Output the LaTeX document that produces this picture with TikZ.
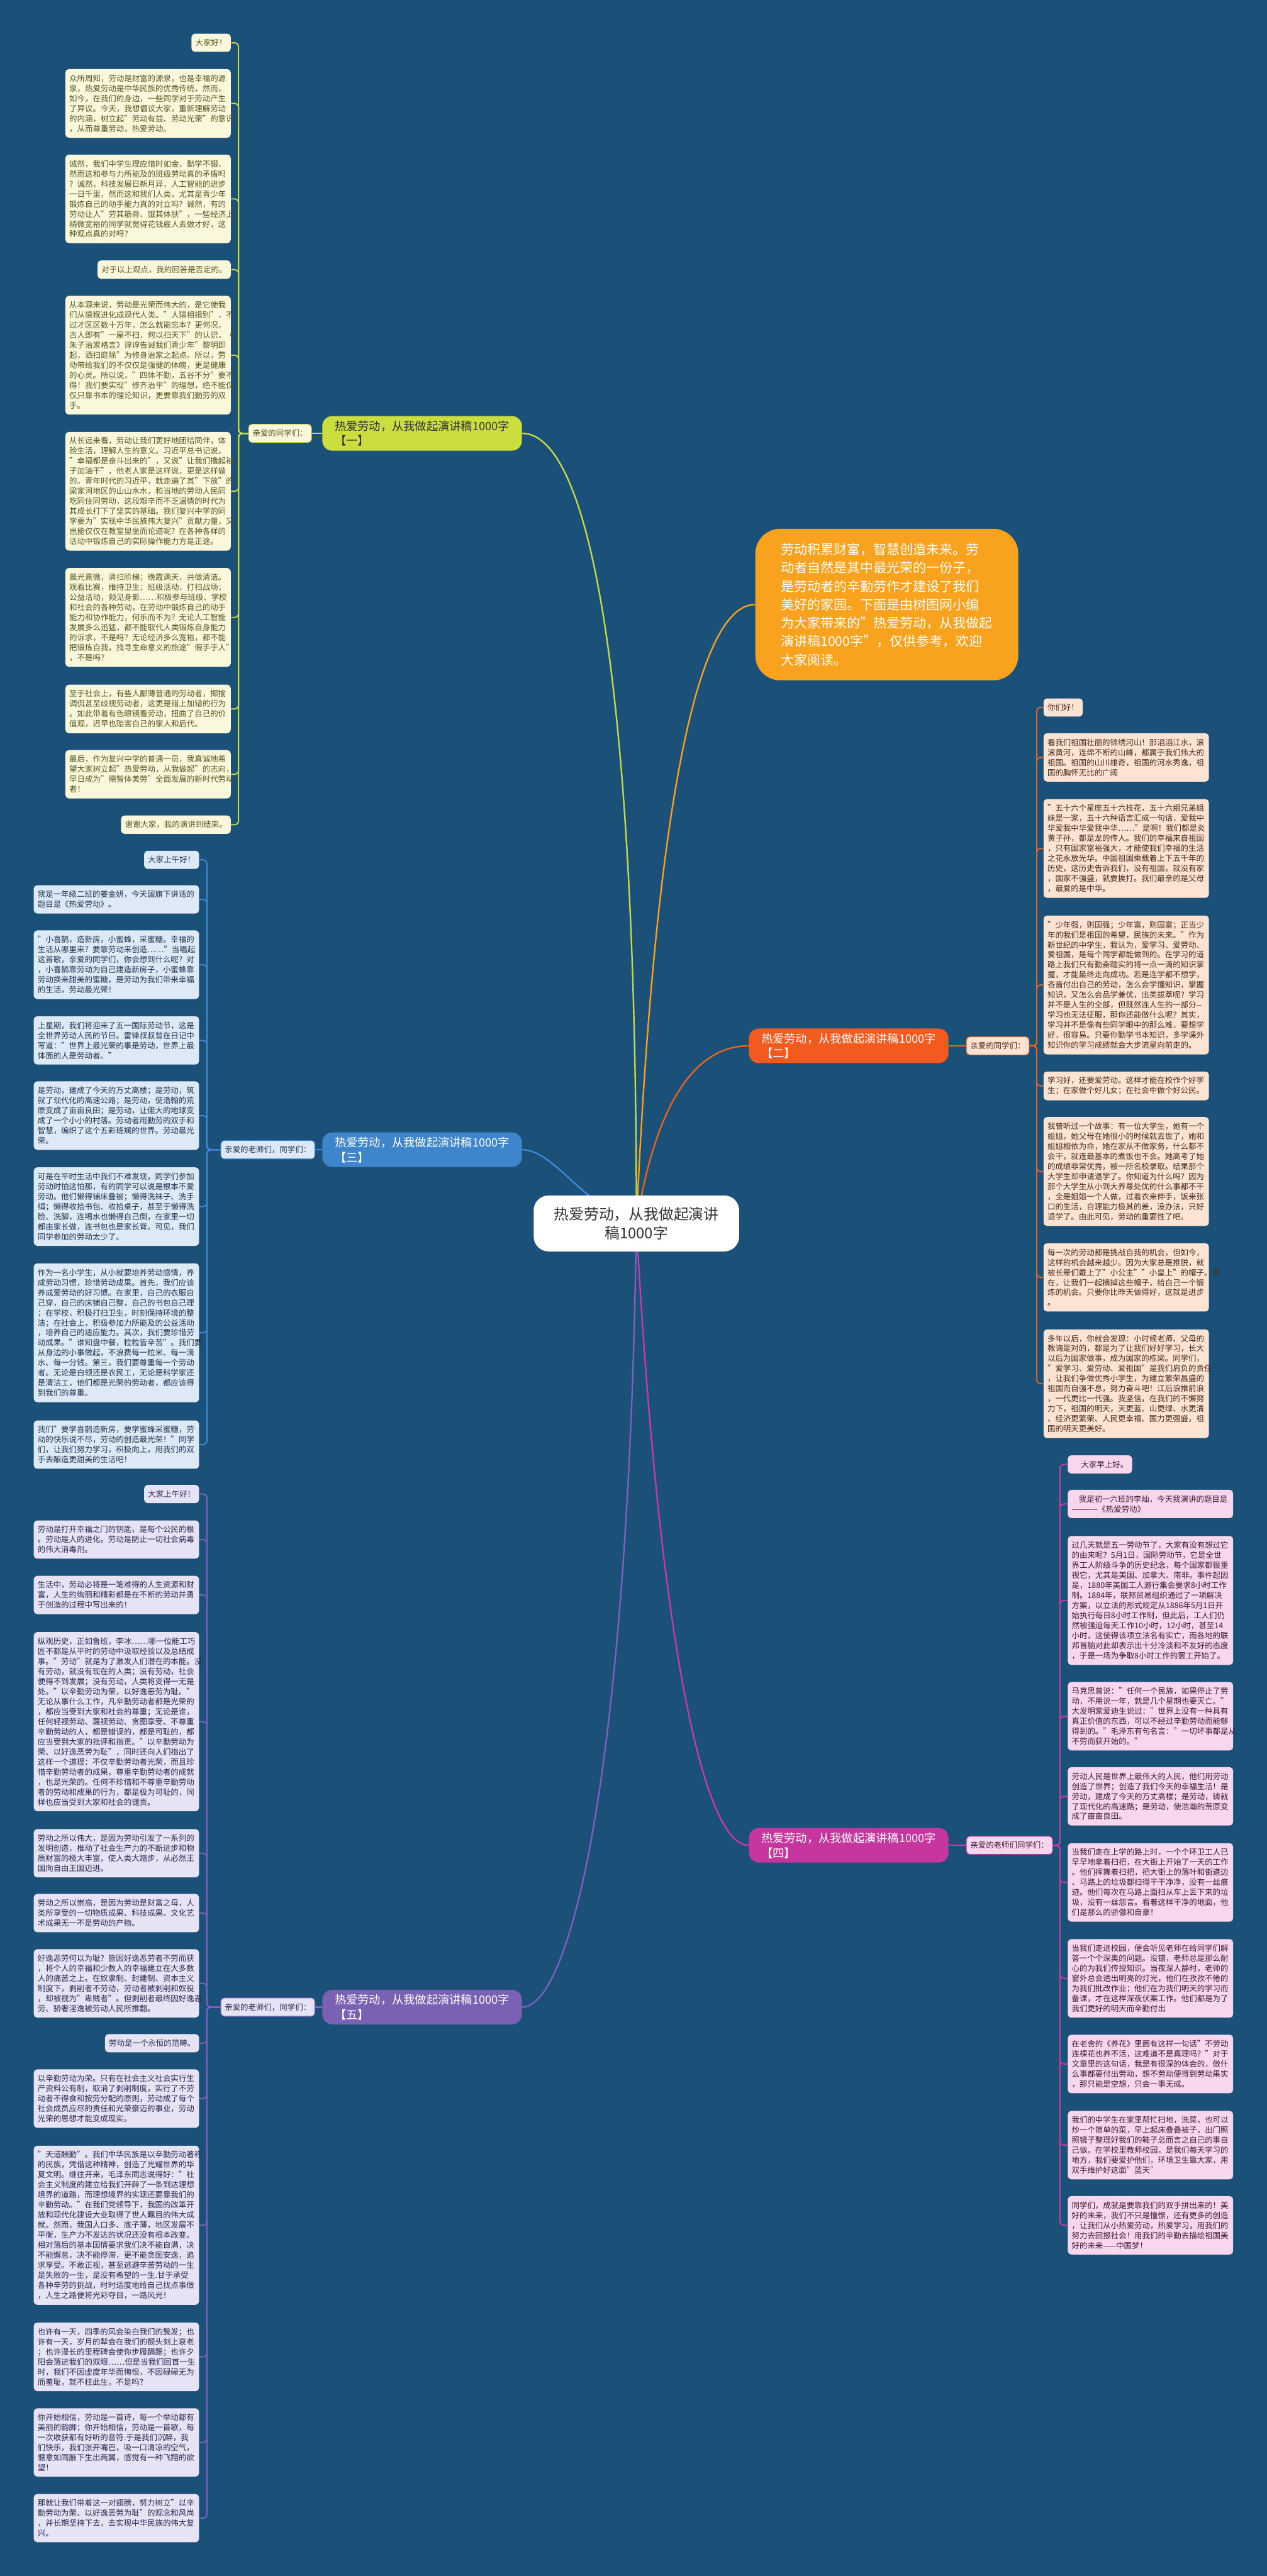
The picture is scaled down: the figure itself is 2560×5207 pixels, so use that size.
\documentclass[tikz,border=0pt]{standalone}
\usepackage{fontspec}
\setmainfont{Noto Sans CJK SC}
\usetikzlibrary{backgrounds}
\definecolor{bgblue}{HTML}{1B5078}
\definecolor{ink}{HTML}{333333}
\definecolor{limeLine}{HTML}{C5DA4A}
\definecolor{limeTopic}{HTML}{CCDD3E}
\definecolor{limeSoft}{HTML}{FAF8DC}
\definecolor{limeInk}{HTML}{56551F}
\definecolor{rustLine}{HTML}{E8651F}
\definecolor{rustTopic}{HTML}{F25A1E}
\definecolor{rustSoft}{HTML}{FDE3D4}
\definecolor{rustInk}{HTML}{46291C}
\definecolor{introFill}{HTML}{F8A21D}
\definecolor{skyLine}{HTML}{3D8AD6}
\definecolor{skyTopic}{HTML}{3E86CB}
\definecolor{skySoft}{HTML}{DDEAF6}
\definecolor{skyInk}{HTML}{1E334F}
\definecolor{plumLine}{HTML}{C43CA4}
\definecolor{plumTopic}{HTML}{C5369E}
\definecolor{plumSoft}{HTML}{F6D7EE}
\definecolor{plumInk}{HTML}{3C1836}
\definecolor{violetLine}{HTML}{7F5FC0}
\definecolor{violetTopic}{HTML}{7B61B3}
\definecolor{violetSoft}{HTML}{E6E3F4}
\definecolor{violetInk}{HTML}{2C2650}
\newcommand\leaffont{\fontsize{4.5pt}{5.78pt}\selectfont}
\newcommand\topicfont{\fontsize{6.6pt}{8.6pt}\selectfont}
\newcommand\rootfont{\fontsize{8.6pt}{11pt}\selectfont}
\newcommand\introfont{\fontsize{7.6pt}{10.6pt}\selectfont}
\tikzset{
  leafbox/.style={rounded corners=0.07cm,align=left,inner xsep=0.08cm,inner ysep=0.11cm,font=\leaffont},
  wide/.style={text width=3.18cm},
  limeleaf/.style={leafbox,fill=limeSoft,text=limeInk},
  rustleaf/.style={leafbox,fill=rustSoft,text=rustInk},
  skyleaf/.style={leafbox,fill=skySoft,text=skyInk},
  plumleaf/.style={leafbox,fill=plumSoft,text=plumInk},
  violetleaf/.style={leafbox,fill=violetSoft,text=violetInk},
  subbox/.style={line width=0.4pt},
  topicbox/.style={rounded corners=0.2cm,align=left,inner xsep=0.25cm,inner ysep=0.09cm,font=\topicfont,text=white},
  rootbox/.style={fill=white,text=ink,rounded corners=0.3cm,align=center,font=\rootfont,minimum width=4.15cm,minimum height=1.13cm},
  introbox/.style={fill=introFill,text=white,rounded corners=0.5cm,align=left,font=\introfont,minimum width=5.31cm,minimum height=3.06cm},
  limelink/.style={draw=limeLine,line width=0.03cm},
  rustlink/.style={draw=rustLine,line width=0.03cm},
  introlink/.style={draw=introFill,line width=0.03cm},
  skylink/.style={draw=skyLine,line width=0.03cm},
  plumlink/.style={draw=plumLine,line width=0.03cm},
  violetlink/.style={draw=violetLine,line width=0.03cm},
  trunk/.style={line width=0.025cm,rounded corners=0.08cm}
}
\begin{document}
\begin{tikzpicture}[x=0.01cm,y=-0.01cm]
\begin{scope}[on background layer]
  \fill[bgblue] (0,0) rectangle (2560,5207);
\end{scope}
\useasboundingbox (0,0) rectangle (2560,5207);

% centre
\node[rootbox] (root) at (1286,2473) {热爱劳动，从我做起演讲\\稿1000字};
\node[introbox] (intro) at (1792,1222) {劳动积累财富，智慧创造未来。劳\\动者自然是其中最光荣的一份子，\\是劳动者的辛勤劳作才建设了我们\\美好的家园。下面是由树图网小编\\为大家带来的"热爱劳动，从我做起\\演讲稿1000字"，仅供参考，欢迎\\大家阅读。};

% topics
\node[topicbox,fill=limeTopic,text=ink] (top1) at (853,876) {热爱劳动，从我做起演讲稿1000字\\【一】};
\node[topicbox,fill=rustTopic] (top2) at (1715,2114) {热爱劳动，从我做起演讲稿1000字\\【二】};
\node[topicbox,fill=skyTopic] (top3) at (853,2324) {热爱劳动，从我做起演讲稿1000字\\【三】};
\node[topicbox,fill=plumTopic] (top4) at (1715,3730) {热爱劳动，从我做起演讲稿1000字\\【四】};
\node[topicbox,fill=violetTopic] (top5) at (853,4057) {热爱劳动，从我做起演讲稿1000字\\【五】};

\node[limeleaf,subbox,draw=limeLine,anchor=east] (sub1) at (630,876) {亲爱的同学们：};
\node[rustleaf,subbox,draw=rustLine,anchor=west] (sub2) at (1952,2114) {亲爱的同学们：};
\node[skyleaf,subbox,draw=skyLine,anchor=east] (sub3) at (637,2324) {亲爱的老师们，同学们：};
\node[plumleaf,subbox,draw=plumLine,anchor=west] (sub4) at (1952,3730) {亲爱的老师们同学们：};
\node[violetleaf,subbox,draw=violetLine,anchor=east] (sub5) at (637,4057) {亲爱的老师们，同学们：};

\coordinate (knee1) at (482,876);
\coordinate (knee2) at (2095,2114);
\coordinate (knee3) at (418,2324);
\coordinate (knee4) at (2142,3730);
\coordinate (knee5) at (418,4057);

% branch one
\node[limeleaf,anchor=east] (a1) at (467,86.5) {大家好！};
\node[limeleaf,wide,anchor=east] (a2) at (467,209) {众所周知，劳动是财富的源泉，也是幸福的源\\泉，热爱劳动是中华民族的优秀传统，然而，\\如今，在我们的身边，一些同学对于劳动产生\\了异议。今天，我想倡议大家，重新理解劳动\\的内涵，树立起"劳动有益、劳动光荣"的意识\\，从而尊重劳动，热爱劳动。};
\node[limeleaf,wide,anchor=east] (a3) at (467,402) {诚然，我们中学生理应惜时如金，勤学不辍，\\然而这和参与力所能及的班级劳动真的矛盾吗\\？诚然，科技发展日新月异，人工智能的进步\\一日千里，然而这和我们人类，尤其是青少年\\锻炼自己的动手能力真的对立吗？诚然，有的\\劳动让人"劳其筋骨、饿其体肤"，一些经济上\\稍微宽裕的同学就觉得花钱雇人去做才好，这\\种观点真的对吗？};
\node[limeleaf,anchor=east] (a4) at (467,545) {对于以上观点，我的回答是否定的。};
\node[limeleaf,wide,anchor=east] (a5) at (467,718) {从本源来说，劳动是光荣而伟大的，是它使我\\们从猿猴进化成现代人类。"人猿相揖别"，不\\过才区区数十万年，怎么就能忘本？更何况，\\古人即有"一屋不扫，何以扫天下"的认识，《\\朱子治家格言》谆谆告诫我们青少年"黎明即\\起，洒扫庭除"为修身治家之起点。所以，劳\\动带给我们的不仅仅是强健的体魄，更是健康\\的心灵。所以说，"四体不勤，五谷不分"要不\\得！我们要实现"修齐治平"的理想，绝不能仅\\仅只靠书本的理论知识，更要靠我们勤劳的双\\手。};
\node[limeleaf,wide,anchor=east] (a6) at (467,993) {从长远来看，劳动让我们更好地团结同伴，体\\验生活，理解人生的意义。习近平总书记说，\\"幸福都是奋斗出来的"，又说"让我们撸起袖\\子加油干"，他老人家是这样说，更是这样做\\的。青年时代的习近平，就走遍了其"下放"的\\梁家河地区的山山水水，和当地的劳动人民同\\吃同住同劳动，这段艰辛而不乏温情的时代为\\其成长打下了坚实的基础。我们复兴中学的同\\学要为"实现中华民族伟大复兴"贡献力量，又\\岂能仅仅在教室里坐而论道呢？在各种各样的\\活动中锻炼自己的实际操作能力方是正途。};
\node[limeleaf,wide,anchor=east] (a7) at (467,1248) {晨光熹微，清扫阶梯；晚霞满天，共做清洁。\\观看比赛，维持卫生；班级活动，打扫战场；\\公益活动，频见身影……积极参与班级、学校\\和社会的各种劳动，在劳动中锻炼自己的动手\\能力和协作能力，何乐而不为？无论人工智能\\发展多么迅猛，都不能取代人类锻炼自身能力\\的诉求，不是吗？无论经济多么宽裕，都不能\\把锻炼自我，找寻生命意义的旅途"假手于人"\\，不是吗？};
\node[limeleaf,wide,anchor=east] (a8) at (467,1433) {至于社会上，有些人鄙薄普通的劳动者，揶揄\\调侃甚至歧视劳动者，这更是错上加错的行为\\。如此带着有色眼镜看劳动，扭曲了自己的价\\值观，迟早也贻害自己的家人和后代。};
\node[limeleaf,wide,anchor=east] (a9) at (467,1565) {最后，作为复兴中学的普通一员，我真诚地希\\望大家树立起"热爱劳动，从我做起"的志向，\\早日成为"德智体美劳"全面发展的新时代劳动\\者！};
\node[limeleaf,anchor=east] (a10) at (467,1667) {谢谢大家，我的演讲到结束。};

% branch two
\node[rustleaf,anchor=west] (b1) at (2108,1430) {你们好！};
\node[rustleaf,wide,anchor=west] (b2) at (2108,1531) {看我们祖国壮丽的锦绣河山！那滔滔江水，滚\\滚黄河，连绵不断的山峰，都属于我们伟大的\\祖国。祖国的山川雄奇，祖国的河水秀逸，祖\\国的胸怀无比的广阔};
\node[rustleaf,wide,anchor=west] (b3) at (2108,1715) {"五十六个星座五十六枝花，五十六组兄弟姐\\妹是一家，五十六种语言汇成一句话，爱我中\\华爱我中华爱我中华……"是啊！我们都是炎\\黄子孙，都是龙的传人。我们的幸福来自祖国\\，只有国家富裕强大，才能使我们幸福的生活\\之花永放光华。中国祖国乘载着上下五千年的\\历史，这历史告诉我们，没有祖国，就没有家\\，国家不强盛，就要挨打。我们最亲的是父母\\，最爱的是中华。};
\node[rustleaf,wide,anchor=west] (b4) at (2108,1991) {"少年强，则国强；少年富，则国富；正当少\\年的我们是祖国的希望，民族的未来。"作为\\新世纪的中学生，我认为，爱学习、爱劳动、\\爱祖国，是每个同学都能做到的。在学习的道\\路上我们只有勤奋踏实的将一点一滴的知识掌\\握，才能最终走向成功。若是连学都不想学，\\吝啬付出自己的劳动，怎么会学懂知识，掌握\\知识，又怎么会品学兼优，出类拔萃呢？学习\\并不是人生的全部，但既然连人生的一部分-{}-\\学习也无法征服，那你还能做什么呢？其实，\\学习并不是像有些同学眼中的那么难，要想学\\好，很容易。只要你勤学书本知识，多学课外\\知识你的学习成绩就会大步流星向前走的。};
\node[rustleaf,wide,anchor=west] (b5) at (2108,2195) {学习好，还要爱劳动。这样才能在校作个好学\\生；在家做个好儿女；在社会中做个好公民。};
\node[rustleaf,wide,anchor=west] (b6) at (2108,2368) {我曾听过一个故事：有一位大学生，她有一个\\姐姐，她父母在她很小的时候就去世了，她和\\姐姐相依为命，她在家从不做家务，什么都不\\会干，就连最基本的煮饭也不会。她高考了她\\的成绩非常优秀，被一所名校录取。结果那个\\大学生却申请退学了。你知道为什么吗？因为\\那个大学生从小到大养尊处优的什么事都不干\\，全是姐姐一个人做，过着衣来伸手，饭来张\\口的生活，自理能力极其的差，没办法，只好\\退学了。由此可见，劳动的重要性了吧。};
\node[rustleaf,wide,anchor=west] (b7) at (2108,2582) {每一次的劳动都是挑战自我的机会，但如今，\\这样的机会越来越少。因为大家总是推脱，就\\被长辈们戴上了"小公主""小皇上"的帽子。现\\在，让我们一起摘掉这些帽子，给自己一个锻\\炼的机会。只要你比昨天做得好，这就是进步\\。};
\node[rustleaf,wide,anchor=west] (b8) at (2108,2797) {多年以后，你就会发现：小时候老师、父母的\\教诲是对的，都是为了让我们好好学习，长大\\以后为国家做事，成为国家的栋梁。同学们，\\"爱学习、爱劳动、爱祖国"是我们肩负的责任\\，让我们争做优秀小学生，为建立繁荣昌盛的\\祖国而自强不息，努力奋斗吧！江后浪推前浪\\，一代更比一代强。我坚信，在我们的不懈努\\力下，祖国的明天，天更蓝、山更绿、水更清\\、经济更繁荣、人民更幸福、国力更强盛，祖\\国的明天更美好。};

% branch three
\node[skyleaf,anchor=east] (c1) at (403,1738) {大家上午好！};
\node[skyleaf,wide,anchor=east] (c2) at (403,1818) {我是一年级二班的姜金妍，今天国旗下讲话的\\题目是《热爱劳动》。};
\node[skyleaf,wide,anchor=east] (c3) at (403,1950) {"小喜鹊，造新房，小蜜蜂，采蜜糖。幸福的\\生活从哪里来？要靠劳动来创造……"当唱起\\这首歌，亲爱的同学们，你会想到什么呢？对\\，小喜鹊靠劳动为自己建造新房子，小蜜蜂靠\\劳动换来甜美的蜜糖，是劳动为我们带来幸福\\的生活，劳动最光荣！};
\node[skyleaf,wide,anchor=east] (c4) at (403,2103) {上星期，我们将迎来了五一国际劳动节，这是\\全世界劳动人民的节日。雷锋叔叔曾在日记中\\写道："世界上最光荣的事是劳动，世界上最\\体面的人是劳动者。"};
\node[skyleaf,wide,anchor=east] (c5) at (403,2255) {是劳动，建成了今天的万丈高楼；是劳动，筑\\就了现代化的高速公路；是劳动，使浩翰的荒\\原变成了亩亩良田；是劳动，让偌大的地球变\\成了一个小小的村落。劳动者用勤劳的双手和\\智慧，编织了这个五彩班斓的世界。劳动最光\\荣。};
\node[skyleaf,wide,anchor=east] (c6) at (403,2439) {可是在平时生活中我们不难发现，同学们参加\\劳动时怕这怕那，有的同学可以说是根本不爱\\劳动。他们懒得铺床叠被；懒得洗袜子、洗手\\绢；懒得收拾书包、收拾桌子，甚至于懒得洗\\脸、洗脚，连喝水也懒得自己倒，在家里一切\\都由家长做，连书包也是家长背。可见，我们\\同学参加的劳动太少了。};
\node[skyleaf,wide,anchor=east] (c7) at (403,2694) {作为一名小学生，从小就要培养劳动感情，养\\成劳动习惯，珍惜劳动成果。首先，我们应该\\养成爱劳动的好习惯。在家里，自己的衣服自\\己穿，自己的床铺自己整，自己的书包自己理\\；在学校，积极打扫卫生，时刻保持环境的整\\洁；在社会上，积极参加力所能及的公益活动\\，培养自己的适应能力。其次，我们要珍惜劳\\动成果。"谁知盘中餐，粒粒皆辛苦"。我们要\\从身边的小事做起，不浪费每一粒米、每一滴\\水、每一分钱。第三，我们要尊重每一个劳动\\者。无论是白领还是农民工，无论是科学家还\\是清洁工，他们都是光荣的劳动者，都应该得\\到我们的尊重。};
\node[skyleaf,wide,anchor=east] (c8) at (403,2920) {我们"要学喜鹊造新房，要学蜜蜂采蜜糖，劳\\动的快乐说不尽，劳动的创造最光荣！"同学\\们，让我们努力学习，积极向上，用我们的双\\手去酿造更甜美的生活吧！};

% branch four
\node[plumleaf,anchor=west] (d1) at (2157,2960) {\hspace*{1.2em}大家早上好。};
\node[plumleaf,wide,anchor=west] (d2) at (2157,3040) {\hspace*{0.9em}我是初一六班的李灿，今天我演讲的题目是\\————《热爱劳动》};
\node[plumleaf,wide,anchor=west] (d3) at (2157,3235) {过几天就是五一劳动节了，大家有没有想过它\\的由来呢？5月1日，国际劳动节，它是全世\\界工人阶级斗争的历史纪念，每个国家都很重\\视它，尤其是美国、加拿大、南非。事件起因\\是，1880年美国工人游行集会要求8小时工作\\制。1884年，联邦贸易组织通过了一项解决\\方案，以立法的形式规定从1886年5月1日开\\始执行每日8小时工作制，但此后，工人们仍\\然被强迫每天工作10小时，12小时，甚至14\\小时，这使得该项立法名有实亡，而各地的联\\邦首脑对此却表示出十分冷淡和不友好的态度\\，于是一场为争取8小时工作的罢工开始了。};
\node[plumleaf,wide,anchor=west] (d4) at (2157,3469) {马克思曾说："任何一个民族，如果停止了劳\\动，不用说一年，就是几个星期也要灭亡。"\\大发明家爱迪生说过："世界上没有一种具有\\真正价值的东西，可以不经过辛勤劳动而能够\\得到的。"毛泽东有句名言："一切坏事都是从\\不劳而获开始的。"};
\node[plumleaf,wide,anchor=west] (d5) at (2157,3631) {劳动人民是世界上最伟大的人民，他们用劳动\\创造了世界；创造了我们今天的幸福生活！是\\劳动，建成了今天的万丈高楼；是劳动，铸就\\了现代化的高速路；是劳动，使浩瀚的荒原变\\成了亩亩良田。};
\node[plumleaf,wide,anchor=west] (d6) at (2157,3805) {当我们走在上学的路上时，一个个环卫工人已\\早早地拿着扫把，在大街上开始了一天的工作\\。他们挥舞着扫把，把大街上的落叶和街道边\\、马路上的垃圾都扫得干干净净，没有一丝痕\\迹。他们每次在马路上面扫从车上丢下来的垃\\圾，没有一丝怨言。看着这样干净的地面，他\\们是那么的骄傲和自豪！};
\node[plumleaf,wide,anchor=west] (d7) at (2157,3999) {当我们走进校园，便会听见老师在给同学们解\\答一个个深奥的问题。没错，老师总是那么耐\\心的为我们传授知识。当夜深人静时，老师的\\窗外总会透出明亮的灯光，他们在孜孜不倦的\\为我们批改作业；他们在为我们明天的学习而\\备课，才在这样深夜伏案工作。他们都是为了\\我们更好的明天而辛勤付出};
\node[plumleaf,wide,anchor=west] (d8) at (2157,4172) {在老舍的《养花》里面有这样一句话"不劳动\\连棵花也养不活，这难道不是真理吗？"对于\\文章里的这句话，我是有很深的体会的，做什\\么事都要付出劳动，想不劳动便得到劳动果实\\，那只能是空想，只会一事无成。};
\node[plumleaf,wide,anchor=west] (d9) at (2157,4336) {我们的中学生在家里帮忙扫地，洗菜，也可以\\炒一个简单的菜，早上起床叠叠被子，出门照\\照镜子整理好我们的鞋子总而言之自己的事自\\己做。在学校里教师校园，是我们每天学习的\\地方，我们要爱护他们，环境卫生靠大家，用\\双手维护好这面"蓝天"};
\node[plumleaf,wide,anchor=west] (d10) at (2157,4498) {同学们，成就是要靠我们的双手拼出来的！美\\好的未来，我们不只是憧憬，还有更多的创造\\，让我们从小热爱劳动，热爱学习，用我们的\\努力去回报社会！用我们的辛勤去描绘祖国美\\好的未来——中国梦！};

% branch five
\node[violetleaf,anchor=east] (e1) at (403,3020) {大家上午好！};
\node[violetleaf,wide,anchor=east] (e2) at (403,3112) {劳动是打开幸福之门的钥匙，是每个公民的根\\。劳动是人的进化。劳动是防止一切社会病毒\\的伟大消毒剂。};
\node[violetleaf,wide,anchor=east] (e3) at (403,3224) {生活中，劳动必将是一笔难得的人生资源和财\\富，人生的绚丽和精彩都是在不断的劳动并勇\\于创造的过程中写出来的！};
\node[violetleaf,wide,anchor=east] (e4) at (403,3480) {纵观历史，正如鲁班，李冰……哪一位能工巧\\匠不都是从平时的劳动中汲取经验以及总结成\\事。"劳动"就是为了激发人们潜在的本能。没\\有劳动，就没有现在的人类；没有劳动，社会\\便得不到发展；没有劳动，人类将变得一无是\\处。"以辛勤劳动为荣，以好逸恶劳为耻。"\\无论从事什么工作，凡辛勤劳动者都是光荣的\\，都应当受到大家和社会的尊重；无论是谁，\\任何轻视劳动、蔑视劳动、贪图享受、不尊重\\辛勤劳动的人，都是错误的，都是可耻的，都\\应当受到大家的批评和指责。"以辛勤劳动为\\荣、以好逸恶劳为耻"，同时还向人们指出了\\这样一个道理：不仅辛勤劳动者光荣，而且珍\\惜辛勤劳动者的成果，尊重辛勤劳动者的成就\\，也是光荣的。任何不珍惜和不尊重辛勤劳动\\者的劳动和成果的行为，都是极为可耻的，同\\样也应当受到大家和社会的谴责。};
\node[violetleaf,wide,anchor=east] (e5) at (403,3746) {劳动之所以伟大，是因为劳动引发了一系列的\\发明创造，推动了社会生产力的不断进步和物\\质财富的极大丰富，使人类大踏步，从必然王\\国向自由王国迈进。};
\node[violetleaf,wide,anchor=east] (e6) at (403,3867) {劳动之所以崇高，是因为劳动是财富之母，人\\类所享受的一切物质成果、科技成果、文化艺\\术成果无一不是劳动的产物。};
\node[violetleaf,wide,anchor=east] (e7) at (403,4009) {好逸恶劳何以为耻？皆因好逸恶劳者不劳而获\\，将个人的幸福和少数人的幸福建立在大多数\\人的痛苦之上。在奴隶制、封建制、资本主义\\制度下，剥削者不劳动，劳动者被剥削和奴役\\，却被视为"卑贱者"。但剥削者最终因好逸恶\\劳、骄奢淫逸被劳动人民所推翻。};
\node[violetleaf,anchor=east] (e8) at (403,4130) {劳动是一个永恒的范畴。};
\node[violetleaf,wide,anchor=east] (e9) at (403,4242) {以辛勤劳动为荣。只有在社会主义社会实行生\\产资料公有制，取消了剥削制度，实行了不劳\\动者不得食和按劳分配的原则，劳动成了每个\\社会成员应尽的责任和光荣豪迈的事业，劳动\\光荣的思想才能变成现实。};
\node[violetleaf,wide,anchor=east] (e10) at (403,4498) {"天道酬勤"。我们中华民族是以辛勤劳动著称\\的民族，凭借这种精神，创造了光耀世界的华\\夏文明。继往开来，毛泽东同志说得好："社\\会主义制度的建立给我们开辟了一条到达理想\\境界的道路，而理想境界的实现还要靠我们的\\辛勤劳动。"在我们党领导下，我国的改革开\\放和现代化建设大业取得了世人瞩目的伟大成\\就。然而，我国人口多、底子薄，地区发展不\\平衡，生产力不发达的状况还没有根本改变。\\相对落后的基本国情要求我们决不能自满，决\\不能懈怠，决不能停滞，更不能贪图安逸，追\\求享受。不敢正视，甚至逃避辛苦劳动的一生\\是失败的一生，是没有希望的一生.甘于承受\\各种辛劳的挑战，时时适度地给自己找点事做\\，人生之路便将光彩夺目，一路风光！};
\node[violetleaf,wide,anchor=east] (e11) at (403,4764) {也许有一天，四季的风会染白我们的鬓发；也\\许有一天，岁月的犁会在我们的额头刻上衰老\\；也许漫长的里程碑会使你步履蹒跚；也许夕\\阳会落进我们的双眼……但是当我们回首一生\\时，我们不因虚度年华而悔恨，不因碌碌无为\\而羞耻，就不枉此生，不是吗？};
\node[violetleaf,wide,anchor=east] (e12) at (403,4937) {你开始相信，劳动是一首诗，每一个举动都有\\美丽的韵脚；你开始相信，劳动是一首歌，每\\一次收获都有好听的音符.于是我们沉醉，我\\们快乐，我们张开嘴巴，吸一口清凉的空气，\\惬意如同腋下生出两翼，感觉有一种飞翔的欲\\望！};
\node[violetleaf,wide,anchor=east] (e13) at (403,5090) {那就让我们带着这一对翅膀，努力树立"以辛\\勤劳动为荣、以好逸恶劳为耻"的观念和风尚\\，并长期坚持下去，去实现中华民族的伟大复\\兴。};

\begin{scope}[on background layer]
  % centre to topics
  \draw[limelink] (root.center) .. controls (1286,1300) and (1180,876) .. (top1.east);
  \draw[introlink] (root.center) .. controls (1320,1700) and (1400,1222) .. (intro.west);
  \draw[rustlink] (root.center) .. controls (1330,2200) and (1420,2114) .. (top2.west);
  \draw[skylink] (root.center) .. controls (1180,2440) and (1120,2324) .. (top3.east);
  \draw[plumlink] (root.center) .. controls (1330,3300) and (1420,3730) .. (top4.west);
  \draw[violetlink] (root.center) .. controls (1270,3600) and (1150,4057) .. (top5.east);
  \draw[limelink] (top1.west) -- (sub1.east);
  \draw[rustlink] (top2.east) -- (sub2.west);
  \draw[skylink] (top3.west) -- (sub3.east);
  \draw[plumlink] (top4.east) -- (sub4.west);
  \draw[violetlink] (top5.west) -- (sub5.east);
  % branch one
  \draw[limelink,trunk] (sub1.west) -- (knee1) |- (a1.east);
  \draw[limelink,trunk] (sub1.west) -- (knee1) |- (a2.east);
  \draw[limelink,trunk] (sub1.west) -- (knee1) |- (a3.east);
  \draw[limelink,trunk] (sub1.west) -- (knee1) |- (a4.east);
  \draw[limelink,trunk] (sub1.west) -- (knee1) |- (a5.east);
  \draw[limelink,trunk] (sub1.west) -- (knee1) |- (a6.east);
  \draw[limelink,trunk] (sub1.west) -- (knee1) |- (a7.east);
  \draw[limelink,trunk] (sub1.west) -- (knee1) |- (a8.east);
  \draw[limelink,trunk] (sub1.west) -- (knee1) |- (a9.east);
  \draw[limelink,trunk] (sub1.west) -- (knee1) |- (a10.east);
  % branch two
  \draw[rustlink,trunk] (sub2.east) -- (knee2) |- (b1.west);
  \draw[rustlink,trunk] (sub2.east) -- (knee2) |- (b2.west);
  \draw[rustlink,trunk] (sub2.east) -- (knee2) |- (b3.west);
  \draw[rustlink,trunk] (sub2.east) -- (knee2) |- (b4.west);
  \draw[rustlink,trunk] (sub2.east) -- (knee2) |- (b5.west);
  \draw[rustlink,trunk] (sub2.east) -- (knee2) |- (b6.west);
  \draw[rustlink,trunk] (sub2.east) -- (knee2) |- (b7.west);
  \draw[rustlink,trunk] (sub2.east) -- (knee2) |- (b8.west);
  % branch three
  \draw[skylink,trunk] (sub3.west) -- (knee3) |- (c1.east);
  \draw[skylink,trunk] (sub3.west) -- (knee3) |- (c2.east);
  \draw[skylink,trunk] (sub3.west) -- (knee3) |- (c3.east);
  \draw[skylink,trunk] (sub3.west) -- (knee3) |- (c4.east);
  \draw[skylink,trunk] (sub3.west) -- (knee3) |- (c5.east);
  \draw[skylink,trunk] (sub3.west) -- (knee3) |- (c6.east);
  \draw[skylink,trunk] (sub3.west) -- (knee3) |- (c7.east);
  \draw[skylink,trunk] (sub3.west) -- (knee3) |- (c8.east);
  % branch four
  \draw[plumlink,trunk] (sub4.east) -- (knee4) |- (d1.west);
  \draw[plumlink,trunk] (sub4.east) -- (knee4) |- (d2.west);
  \draw[plumlink,trunk] (sub4.east) -- (knee4) |- (d3.west);
  \draw[plumlink,trunk] (sub4.east) -- (knee4) |- (d4.west);
  \draw[plumlink,trunk] (sub4.east) -- (knee4) |- (d5.west);
  \draw[plumlink,trunk] (sub4.east) -- (knee4) |- (d6.west);
  \draw[plumlink,trunk] (sub4.east) -- (knee4) |- (d7.west);
  \draw[plumlink,trunk] (sub4.east) -- (knee4) |- (d8.west);
  \draw[plumlink,trunk] (sub4.east) -- (knee4) |- (d9.west);
  \draw[plumlink,trunk] (sub4.east) -- (knee4) |- (d10.west);
  % branch five
  \draw[violetlink,trunk] (sub5.west) -- (knee5) |- (e1.east);
  \draw[violetlink,trunk] (sub5.west) -- (knee5) |- (e2.east);
  \draw[violetlink,trunk] (sub5.west) -- (knee5) |- (e3.east);
  \draw[violetlink,trunk] (sub5.west) -- (knee5) |- (e4.east);
  \draw[violetlink,trunk] (sub5.west) -- (knee5) |- (e5.east);
  \draw[violetlink,trunk] (sub5.west) -- (knee5) |- (e6.east);
  \draw[violetlink,trunk] (sub5.west) -- (knee5) |- (e7.east);
  \draw[violetlink,trunk] (sub5.west) -- (knee5) |- (e8.east);
  \draw[violetlink,trunk] (sub5.west) -- (knee5) |- (e9.east);
  \draw[violetlink,trunk] (sub5.west) -- (knee5) |- (e10.east);
  \draw[violetlink,trunk] (sub5.west) -- (knee5) |- (e11.east);
  \draw[violetlink,trunk] (sub5.west) -- (knee5) |- (e12.east);
  \draw[violetlink,trunk] (sub5.west) -- (knee5) |- (e13.east);
\end{scope}
\end{tikzpicture}
\end{document}
